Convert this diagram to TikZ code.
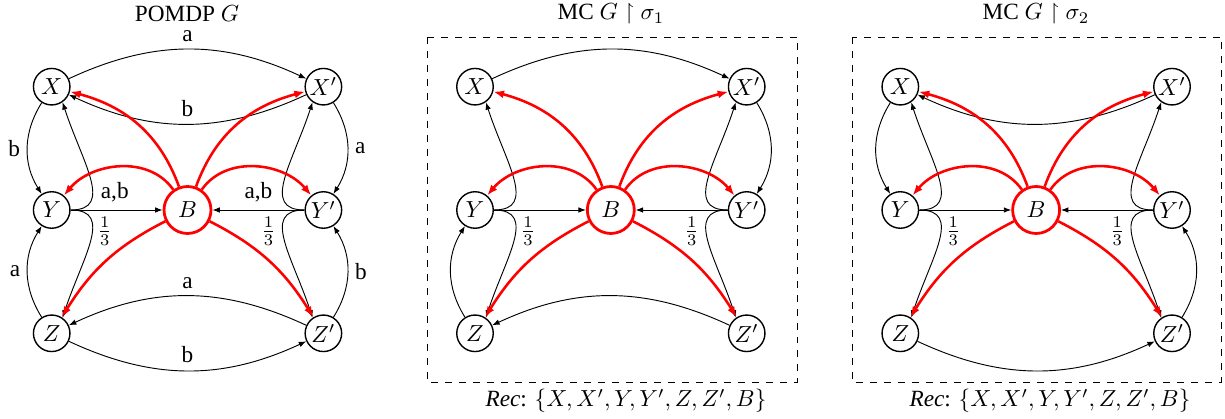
\documentclass[tikz,border=0pt]{standalone}
\usepackage{amssymb}
\usepackage{fontspec}
\setmainfont{Liberation Serif}
\usetikzlibrary{arrows.meta}
\tikzset{
  st/.style={circle,draw,line width=0.6pt,minimum size=15.7pt,inner sep=0pt},
  bst/.style={circle,draw=red,line width=1.2pt,minimum size=20.2pt,inner sep=0pt},
  ed/.style={line width=0.4pt,-{Latex[length=3.2pt,width=2.4pt]}},
  redge/.style={red,line width=1.1pt,-{Latex[length=4.6pt,width=3.4pt]}},
  br/.style={out distance=19pt,in distance=27pt},
  lab/.style={inner sep=3pt},
  box/.style={dashed,line width=0.4pt}
}
% #1 = prefix, #2 = x shift, #3 = label of the branching edges
\newcommand\drawcore[3]{%
  \node[st] (#1X) at (#2,-86.7) {$X$};
  \node[st] (#1Xp) at (#2+271.7,-86.7) {$X'$};
  \node[st] (#1Y) at (#2,-210) {$Y$};
  \node[bst] (#1B) at (#2+135.8,-210) {$B$};
  \node[st] (#1Yp) at (#2+271.7,-210) {$Y'$};
  \node[st] (#1Z) at (#2,-333.3) {$Z$};
  \node[st] (#1Zp) at (#2+271.7,-333.3) {$Z'$};
  \draw[ed] (#1Y.east) -- node[pos=0.48,above,lab]{#3} node[pos=0.37,below,lab]{$\frac13$} (#1B);
  \draw[ed] (#1Y.east) to[out=0,in=-72,br] (#1X.-55);
  \draw[ed] (#1Y.east) to[out=0,in=72,br] (#1Z.55);
  \draw[ed] (#1Yp.west) -- node[pos=0.5,above,lab]{#3} node[pos=0.39,below,lab]{$\frac13$} (#1B);
  \draw[ed] (#1Yp.west) to[out=180,in=-108,br] (#1Xp.-125);
  \draw[ed] (#1Yp.west) to[out=180,in=108,br] (#1Zp.125);
}
\newcommand\drawreds[1]{%
  \draw[redge] (#1B) to[out=110,in=-15] (#1X);
  \draw[redge] (#1B) to[out=70,in=195] (#1Xp);
  \draw[redge] (#1B) to[out=125,in=50] (#1Y);
  \draw[redge] (#1B) to[out=55,in=130] (#1Yp);
  \draw[redge] (#1B) to[out=207,in=58] (#1Z);
  \draw[redge] (#1B) to[out=-27,in=122] (#1Zp);
}
\begin{document}
\begin{tikzpicture}[x=0.43pt,y=0.43pt]
\useasboundingbox (0,0) rectangle (1225,-419);
% titles
\node (t1) at (187,-14) {POMDP $G$};
\node (t2) at (611,-14) {MC $G\upharpoonright\sigma_1$};
\node (t3) at (1036,-14) {MC $G\upharpoonright\sigma_2$};
% boxes
\draw[box] (427,-37) rectangle (797,-382);
\draw[box] (852,-37) rectangle (1221,-382);
\node (r2) at (626,-401) {\textit{Rec}: $\{X,X',Y,Y',Z,Z',B\}$};
\node (r3) at (1050,-401) {\textit{Rec}: $\{X,X',Y,Y',Z,Z',B\}$};
% panel 1
\drawcore{a}{51.7}{a,b}
\draw[ed] (aX) to[bend left=25] node[above,lab]{a} (aXp);
\draw[ed] (aXp) to[bend left=25] node[above,lab]{b} (aX);
\draw[ed] (aX) to[bend right=32] node[left,lab]{b} (aY);
\draw[ed] (aXp) to[bend left=32] node[right,lab]{a} (aYp);
\draw[ed] (aZ) to[bend left=32] node[left,lab]{a} (aY);
\draw[ed] (aZp) to[bend right=32] node[right,lab]{b} (aYp);
\draw[ed] (aZp) to[bend right=25] node[above,lab]{a} (aZ);
\draw[ed] (aZ) to[bend right=25] node[above,lab]{b} (aZp);
\drawreds{a}
% panel 2
\drawcore{b}{475}{}
\draw[ed] (bX) to[bend left=25] (bXp);
\draw[ed] (bXp) to[bend left=32] (bYp);
\draw[ed] (bZ) to[bend left=32] (bY);
\draw[ed] (bZp) to[bend right=25] (bZ);
\drawreds{b}
% panel 3
\drawcore{c}{900.3}{}
\draw[ed] (cXp) to[bend left=25] (cX);
\draw[ed] (cX) to[bend right=32] (cY);
\draw[ed] (cZp) to[bend right=32] (cYp);
\draw[ed] (cZ) to[bend right=25] (cZp);
\drawreds{c}
\end{tikzpicture}
\end{document}
